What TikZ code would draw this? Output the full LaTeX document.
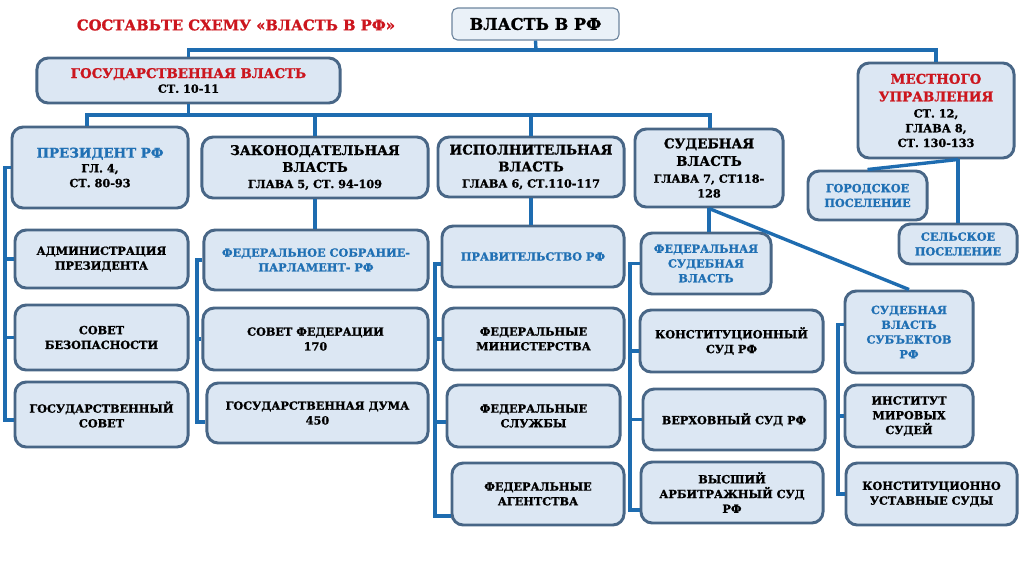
\documentclass[tikz,border=0pt]{standalone}
\usepackage{fontspec}
\setmainfont{DejaVu Serif}[BoldFeatures={FakeBold=1.2}]
\usepackage{xcolor}
\definecolor{boxfill}{RGB}{220,231,243}
\definecolor{boxline}{RGB}{72,102,134}
\definecolor{linkblue}{RGB}{30,108,176}
\definecolor{headred}{RGB}{204,22,30}
\definecolor{headblue}{RGB}{32,112,180}
\newcommand\headfont{\fontsize{9.5}{12}\selectfont}
\tikzset{
  box/.style={draw=boxline, line width=2.1pt, fill=boxfill, rounded corners=8pt,
    align=center, inner sep=2pt, font=\bfseries\fontsize{8}{10.5}\selectfont},
  rootbox/.style={draw=boxline!80, line width=0.8pt, fill=boxfill!60, rounded corners=4pt,
    font=\bfseries\fontsize{11.5}{13}\selectfont},
  link/.style={draw=linkblue, line width=2.4pt},
}

\begin{document}
\begin{tikzpicture}[x=0.025cm, y=-0.025cm]
\useasboundingbox (0,0) rectangle (1024,574);

% Title and top level
\node[font=\bfseries\fontsize{10.5}{12}\selectfont, text=headred] (title) at (236,25) {СОСТАВЬТЕ СХЕМУ «ВЛАСТЬ В РФ»};
\node[rootbox, minimum width=4.175cm, minimum height=0.8cm] (root) at (535.5,24) {ВЛАСТЬ В РФ};
\node[box, minimum width=7.575cm, minimum height=1.125cm] (state) at (188.5,80.5) {{\headfont\color{headred}ГОСУДАРСТВЕННАЯ ВЛАСТЬ}\\СТ. 10-11};
\node[box, minimum width=3.9cm, minimum height=2.375cm] (local) at (936,110.5) {{\headfont\color{headred}МЕСТНОГО}\\[2pt]{\headfont\color{headred}УПРАВЛЕНИЯ}\\[1pt]СТ. 12,\\ГЛАВА 8,\\СТ. 130-133};

% Branches
\node[box, minimum width=4.4cm, minimum height=2.025cm] (pres) at (100,167.5) {{\headfont\color{headblue}ПРЕЗИДЕНТ РФ}\\ГЛ. 4,\\СТ. 80-93};
\node[box, minimum width=5.65cm, minimum height=1.525cm] (leg) at (315,167.5) {{\headfont ЗАКОНОДАТЕЛЬНАЯ}\\[1.5pt]{\headfont ВЛАСТЬ}\\[1pt]ГЛАВА 5, СТ. 94-109};
\node[box, minimum width=4.65cm, minimum height=1.5cm] (exec) at (531,167) {{\headfont ИСПОЛНИТЕЛЬНАЯ}\\[1.5pt]{\headfont ВЛАСТЬ}\\[1pt]ГЛАВА 6, СТ.110-117};
\node[box, minimum width=3.7cm, minimum height=1.95cm] (jud) at (709,168) {{\headfont СУДЕБНАЯ}\\[2pt]{\headfont ВЛАСТЬ}\\[1.5pt]ГЛАВА 7, СТ118-\\128};
\node[box, minimum width=2.975cm, minimum height=1.225cm, text=headblue] (urban) at (867.5,195.5) {ГОРОДСКОЕ\\ПОСЕЛЕНИЕ};
\node[box, minimum width=2.95cm, minimum height=1cm, text=headblue] (rural) at (958,244) {СЕЛЬСКОЕ\\ПОСЕЛЕНИЕ};

% President
\node[box, minimum width=4.325cm, minimum height=1.45cm] (admin) at (101.5,259) {АДМИНИСТРАЦИЯ\\ПРЕЗИДЕНТА};
\node[box, minimum width=4.325cm, minimum height=1.625cm] (secur) at (101.5,337.5) {СОВЕТ\\БЕЗОПАСНОСТИ};
\node[box, minimum width=4.325cm, minimum height=1.625cm] (council) at (101.5,414.5) {ГОСУДАРСТВЕННЫЙ\\СОВЕТ};

% Legislative
\node[box, minimum width=5.6cm, minimum height=1.5cm, text=headblue] (assembly) at (316,260) {ФЕДЕРАЛЬНОЕ СОБРАНИЕ-\\ПАРЛАМЕНТ- РФ};
\node[box, minimum width=5.625cm, minimum height=1.55cm] (fedcouncil) at (315.5,339) {СОВЕТ ФЕДЕРАЦИИ\\170};
\node[box, minimum width=5.525cm, minimum height=1.5cm] (duma) at (317.5,413) {ГОСУДАРСТВЕННАЯ ДУМА\\450};

% Executive
\node[box, minimum width=4.55cm, minimum height=1.525cm, text=headblue] (gov) at (533,256.5) {ПРАВИТЕЛЬСТВО РФ};
\node[box, minimum width=4.525cm, minimum height=1.55cm] (minist) at (533.5,339) {ФЕДЕРАЛЬНЫЕ\\МИНИСТЕРСТВА};
\node[box, minimum width=4.325cm, minimum height=1.55cm] (services) at (533.5,416) {ФЕДЕРАЛЬНЫЕ\\СЛУЖБЫ};
\node[box, minimum width=4.3cm, minimum height=1.55cm] (agencies) at (538,494) {ФЕДЕРАЛЬНЫЕ\\АГЕНТСТВА};

% Judicial
\node[box, minimum width=3.25cm, minimum height=1.525cm, text=headblue] (fedjud) at (706,263.5) {ФЕДЕРАЛЬНАЯ\\СУДЕБНАЯ\\ВЛАСТЬ};
\node[box, minimum width=4.575cm, minimum height=1.55cm] (constcourt) at (731.5,341) {КОНСТИТУЦИОННЫЙ\\СУД РФ};
\node[box, minimum width=4.55cm, minimum height=1.525cm] (supreme) at (734,419.5) {ВЕРХОВНЫЙ СУД РФ};
\node[box, minimum width=4.55cm, minimum height=1.525cm] (arbitr) at (732,492.5) {ВЫСШИЙ\\АРБИТРАЖНЫЙ СУД\\РФ};
\node[box, minimum width=3.2cm, minimum height=2.05cm, text=headblue] (subj) at (909,332) {СУДЕБНАЯ\\ВЛАСТЬ\\СУБЪЕКТОВ\\РФ};
\node[box, minimum width=3.2cm, minimum height=1.55cm] (mirovye) at (909,416) {ИНСТИТУТ\\МИРОВЫХ\\СУДЕЙ};
\node[box, minimum width=4.275cm, minimum height=1.55cm] (ustav) at (931.5,494) {КОНСТИТУЦИОННО\\УСТАВНЫЕ СУДЫ};

% Connectors from the top
\coordinate (bus1) at (536,50);
\coordinate (bus2l) at (87,115);
\coordinate (bus2r) at (710,115);
\draw[link] (root.south) -- (bus1);
\draw[link] (state.north) |- (bus1) -| (local.north);
\draw[link] (state.south) -- (state.south |- bus2l);
\draw[link] (bus2l |- pres.north) -- (bus2l) -- (bus2r) -- (bus2r |- jud.north);
\draw[link] (leg.north) -- (leg.north |- bus2l);
\draw[link] (exec.north) -- (exec.north |- bus2l);
\draw[link] (leg.south) -- (leg.south |- assembly.north);
\draw[link] (exec.south) -- (exec.south |- gov.north);
\draw[link] (jud.south) -- (jud.south |- fedjud.north);
\draw[link] (jud.south) -- (subj.north);
\draw[link] (rural.north |- local.south) -- (rural.north);
\draw[link] (rural.north |- local.south) -- (urban.north);

% Side brackets
\coordinate (presbar) at (5,0);
\coordinate (legbar) at (197,0);
\coordinate (execbar) at (435,0);
\coordinate (judbar) at (630,0);
\coordinate (subjbar) at (838,0);
\draw[link] (pres.west) -- (pres.west -| presbar) |- ([yshift=-0.14cm]council.west);
\draw[link] (admin.west) -- (admin.west -| presbar);
\draw[link] (secur.west) -- (secur.west -| presbar);
\draw[link] (assembly.west) -- (assembly.west -| legbar) |- ([yshift=-0.22cm]duma.west);
\draw[link] (fedcouncil.west) -- (fedcouncil.west -| legbar);
\draw[link] ([yshift=-0.19cm]gov.west) -- ([yshift=-0.19cm]gov.west -| execbar) |- ([yshift=-0.55cm]agencies.west);
\draw[link] (minist.west) -- (minist.west -| execbar);
\draw[link] ([yshift=-0.15cm]services.west) -- ([yshift=-0.15cm]services.west -| execbar);
\draw[link] (fedjud.west) -- (fedjud.west -| judbar) |- ([yshift=-0.44cm]arbitr.west);
\draw[link] ([yshift=-0.25cm]constcourt.west) -- ([yshift=-0.25cm]constcourt.west -| judbar);
\draw[link] (supreme.west) -- (supreme.west -| judbar);
\draw[link] ([yshift=0.18cm]subj.west) -- ([yshift=0.18cm]subj.west -| subjbar) |- (ustav.west);
\draw[link] (mirovye.west) -- (mirovye.west -| subjbar);
\end{tikzpicture}
\end{document}
